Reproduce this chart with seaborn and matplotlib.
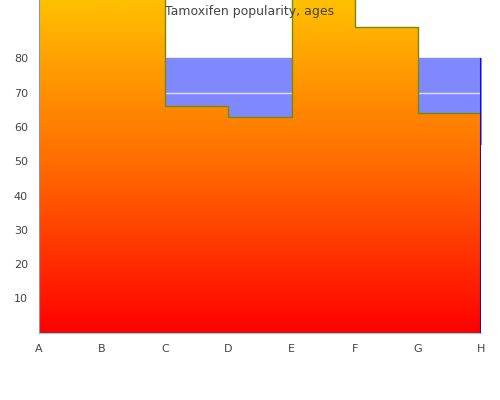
import matplotlib
matplotlib.use("Agg")
import matplotlib.pyplot as plt
import seaborn as sns
import numpy as np
import pandas as pd
from matplotlib.colors import LinearSegmentedColormap

categories = ["A", "B", "C", "D", "E", "F", "G", "H"]
popularity = [120, 120, 66, 63, 120, 89, 64, 64]
band_low = 55
band_high = 80
band_median = 70
yticks = [10, 20, 30, 40, 50, 60, 70, 80]

sns.set_style("white")
fig, ax = plt.subplots(figsize=(5, 4), dpi=100)
fig.subplots_adjust(left=0.078, right=0.962, top=1.0, bottom=0.168)

x = np.arange(len(categories))
df = pd.DataFrame({"x": x, "y": popularity})

# blue band behind the area
ax.fill_between([0, len(categories) - 1], band_low, band_high, color="#8088ff", zorder=1)
ax.hlines(band_median, 0, len(categories) - 1, color="#e0e0f0", lw=1, zorder=1.5)

poly = ax.fill_between(x, 0, popularity, step="post", color="none", zorder=2)
cmap = LinearSegmentedColormap.from_list("ry", ["#ff0000", "#ff6a00", "#ffc000"])
grad = np.linspace(0, 1, 256).reshape(-1, 1)
img = ax.imshow(grad, cmap=cmap, origin="lower", aspect="auto",
                extent=[0, len(categories) - 1, 0, 97], zorder=2)
img.set_clip_path(poly.get_paths()[0], transform=ax.transData)

sns.lineplot(data=df, x="x", y="y", drawstyle="steps-post", color="#7a8a00",
             lw=1, ax=ax, zorder=3)
ax.vlines(len(categories) - 1, 0, band_high, color="#1010c0", lw=1.5, zorder=3)

ax.set_xlim(0, len(categories) - 1)
ax.set_ylim(0, 97)
ax.set_xticks(x)
ax.set_xticklabels(categories, fontsize=8, color="#444444")
ax.set_yticks(yticks)
ax.set_yticklabels([str(t) for t in yticks], fontsize=8, color="#444444")
ax.tick_params(length=0, pad=8)
ax.set_xlabel("")
ax.set_ylabel("")
for s in ["top", "right"]:
    ax.spines[s].set_visible(False)
ax.spines["bottom"].set_color("#66ddee")
ax.spines["left"].set_color("#8899aa")
ax.spines["left"].set_linewidth(0.8)

fig.text(0.5, 0.97, "Tamoxifen popularity, ages", ha="center", va="center",
         fontsize=9, color="#444444")
fig.savefig("out.png", dpi=100)
